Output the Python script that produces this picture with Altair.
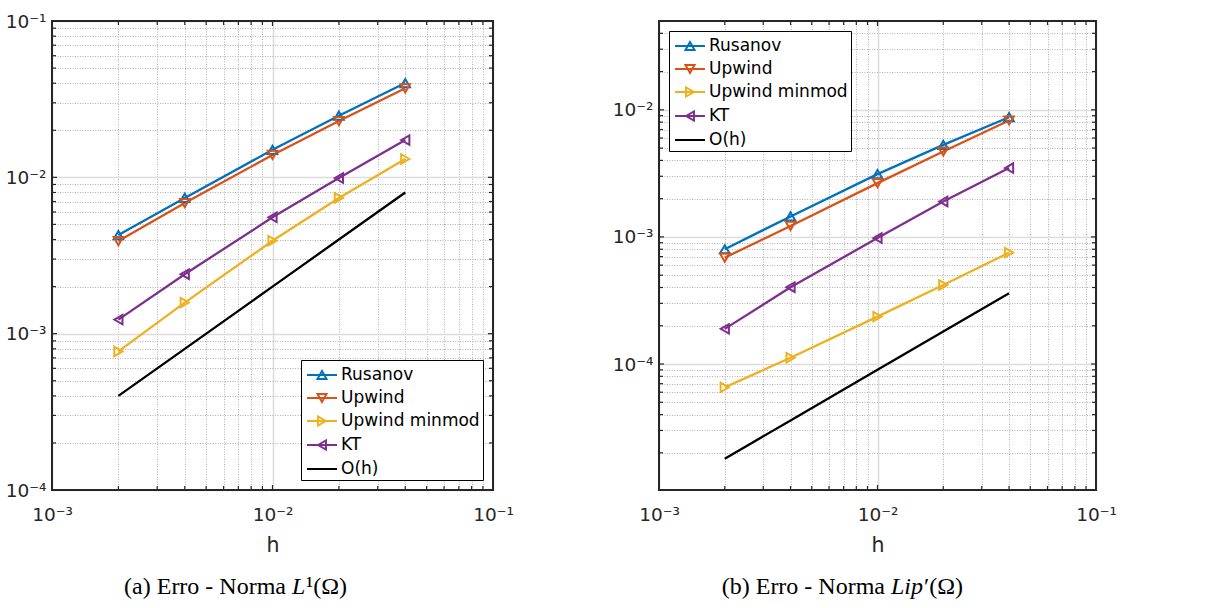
import altair as alt
import pandas as pd

# ---------------- data ----------------
h_values = [0.002, 0.004, 0.01, 0.02, 0.04]
series_names = ["Rusanov", "Upwind", "Upwind minmod", "KT", "O(h)"]

# Panel (a): error in L1 norm
l1_rusanov = [0.00427, 0.00738, 0.0150, 0.0248, 0.0401]
l1_upwind = [0.00391, 0.00685, 0.0139, 0.0229, 0.0371]
l1_upwind_minmod = [0.00077, 0.00158, 0.00393, 0.00738, 0.0131]
l1_kt = [0.00123, 0.0024, 0.00555, 0.0099, 0.0173]
l1_order_h = [0.0004, 0.0008, 0.002, 0.004, 0.008]

# Panel (b): error in Lip' norm
lip_rusanov = [0.0008, 0.00145, 0.00312, 0.0053, 0.00875]
lip_upwind = [0.000687, 0.00122, 0.00265, 0.0047, 0.00824]
lip_upwind_minmod = [0.0000655, 0.000112, 0.000236, 0.000419, 0.000752]
lip_kt = [0.000189, 0.000402, 0.00098, 0.0019, 0.00348]
lip_order_h = [0.000018, 0.000036, 0.00009, 0.00018, 0.00036]

# axis ticks / labels
x_ticks = [0.001, 0.002, 0.003, 0.004, 0.005, 0.006, 0.007, 0.008, 0.009,
           0.01, 0.02, 0.03, 0.04, 0.05, 0.06, 0.07, 0.08, 0.09, 0.1]
x_major = [0.001, 0.01, 0.1]
x_major_labels = ["10⁻³", "10⁻²", "10⁻¹"]

a_y_ticks = [0.0001, 0.0002, 0.0003, 0.0004, 0.0005, 0.0006, 0.0007, 0.0008, 0.0009,
             0.001, 0.002, 0.003, 0.004, 0.005, 0.006, 0.007, 0.008, 0.009,
             0.01, 0.02, 0.03, 0.04, 0.05, 0.06, 0.07, 0.08, 0.09, 0.1]
a_y_major = [0.0001, 0.001, 0.01, 0.1]
a_y_major_labels = ["10⁻⁴", "10⁻³", "10⁻²", "10⁻¹"]
a_y_domain = [0.0001, 0.1]

b_y_ticks = [0.00002, 0.00003, 0.00004, 0.00005, 0.00006, 0.00007, 0.00008, 0.00009,
             0.0001, 0.0002, 0.0003, 0.0004, 0.0005, 0.0006, 0.0007, 0.0008, 0.0009,
             0.001, 0.002, 0.003, 0.004, 0.005, 0.006, 0.007, 0.008, 0.009,
             0.01, 0.02, 0.03, 0.04, 0.05]
b_y_major = [0.0001, 0.001, 0.01]
b_y_major_labels = ["10⁻⁴", "10⁻³", "10⁻²"]
b_y_domain = [0.0000102, 0.05]

# ---------------- style ----------------
series_colors = ["#0072BD", "#D95319", "#EDB120", "#7E2F8E", "#000000"]
series_markers = ["triangle-up", "triangle-down", "triangle-right", "triangle-left"]
legend_paths = [
    "M-0.82,0H1.91M0.545,-0.36L0.955,0.36L0.135,0.36Z",
    "M-0.82,0H1.91M0.545,0.36L0.955,-0.36L0.135,-0.36Z",
    "M-0.82,0H1.91M0.905,0L0.185,-0.41L0.185,0.41Z",
    "M-0.82,0H1.91M0.185,0L0.905,-0.41L0.905,0.41Z",
    "M-0.82,0H1.91",
]
FONT = "DejaVu Sans"
SERIF = "Liberation Serif"
AXIS_COLOR = "#262626"
W_A, W_B, H = 441, 437, 469


def long_df(cols):
    rows = []
    for name, vals in zip(series_names, cols):
        for hv, v in zip(h_values, vals):
            rows.append({"series": name, "h": hv, "err": v})
    return pd.DataFrame(rows)


def arr(vals):
    return "[" + ", ".join(repr(v) for v in vals) + "]"


def grid_props(major):
    t_major = f"indexof({arr(major)}, datum.value) >= 0"
    return dict(
        gridColor={"condition": {"test": t_major, "value": "#dcdcdc"}, "value": "#b2b2b2"},
        gridDash={"condition": {"test": t_major, "value": []}, "value": [1, 1.5]},
        gridWidth={"condition": {"test": t_major, "value": 1.6}, "value": 1},
    )


def label_expr(major, labels):
    parts = [f"datum.value == {repr(v)} ? '{lab}'" for v, lab in zip(major, labels)]
    return " : ".join(parts) + " : ''"


def panel(cols, width, y_domain, y_ticks, y_major, y_labels,
          legend_orient, caption, caption_anchor):
    df = long_df(cols)
    x_scale = alt.Scale(type="log", domain=[0.001, 0.1], nice=False)
    y_scale = alt.Scale(type="log", domain=y_domain, nice=False)
    common = dict(domain=False, ticks=False, grid=True, labelFont=FONT,
                  labelFontSize=18.5, labelColor=AXIS_COLOR, labelOverlap=False)
    x_axis = alt.Axis(values=x_ticks, labelExpr=label_expr(x_major, x_major_labels),
                      labelFlush=False, labelPadding=15, title="h", titleFont=FONT,
                      titleFontSize=20.5, titleFontWeight="normal", titleColor=AXIS_COLOR,
                      titlePadding=12, **common, **grid_props(x_major))
    y_axis = alt.Axis(values=y_ticks, labelExpr=label_expr(y_major, y_labels),
                      labelPadding=6, title=None, **common, **grid_props(y_major))
    legend = alt.Legend(title=None, orient=legend_orient, offset=10, fillColor="white",
                        strokeColor="black", padding=3, labelFont=FONT, labelFontSize=17,
                        labelColor="black", labelLimit=400, symbolSize=484,
                        symbolStrokeWidth=2, labelOffset=13, rowPadding=3, cornerRadius=0)
    color = alt.Color("series:N", scale=alt.Scale(domain=series_names, range=series_colors),
                      legend=legend)
    X = alt.X("h:Q", scale=x_scale, axis=x_axis)
    Y = alt.Y("err:Q", scale=y_scale, axis=y_axis)

    layers = []
    # lines (carry the axes)
    layers.append(alt.Chart(df).mark_line(strokeWidth=2.3).encode(x=X, y=Y, color=color))

    # inward tick marks on the four sides
    xt = pd.DataFrame({"h": x_ticks, "major": [v in x_major for v in x_ticks]})
    yt = pd.DataFrame({"err": y_ticks, "major": [v in y_major for v in y_ticks]})
    for flag, ln in ((True, 5), (False, 4)):
        filt = "datum.major" if flag else "!datum.major"
        base_x = alt.Chart(xt).transform_filter(filt).mark_rule(color=AXIS_COLOR, strokeWidth=1.2)
        layers.append(base_x.encode(x=X, y=alt.value(0), y2=alt.value(ln)))
        layers.append(base_x.encode(x=X, y=alt.value(H), y2=alt.value(H - ln)))
        base_y = alt.Chart(yt).transform_filter(filt).mark_rule(color=AXIS_COLOR, strokeWidth=1.2)
        layers.append(base_y.encode(y=Y, x=alt.value(0), x2=alt.value(ln)))
        layers.append(base_y.encode(y=Y, x=alt.value(width), x2=alt.value(width - ln)))

    # frame drawn above the grid
    one = pd.DataFrame({"k": [0]})
    layers.append(alt.Chart(one).mark_rect(filled=False, stroke=AXIS_COLOR, strokeWidth=2)
                  .encode(x=alt.value(0), x2=alt.value(width), y=alt.value(0), y2=alt.value(H)))

    # markers
    for name, mk, col in zip(series_names, series_markers, series_colors):
        layers.append(
            alt.Chart(df).transform_filter(alt.datum.series == name)
            .mark_point(shape=mk, filled=False, size=90, strokeWidth=2, color=col, opacity=1)
            .encode(x=X, y=Y)
        )
    # legend carrier (no visible marks)
    layers.append(
        alt.Chart(df).transform_filter("datum.err < 0")
        .mark_point(filled=False, strokeWidth=2, opacity=1)
        .encode(x=X, y=Y, color=color,
                shape=alt.Shape("series:N",
                                scale=alt.Scale(domain=series_names, range=legend_paths),
                                legend=legend))
    )
    # caption
    p1, p2, p3 = caption
    cap_y = 572.5
    layers.append(alt.Chart(one).mark_text(text=p1, font=SERIF, fontSize=24, align="right",
                                           baseline="alphabetic", color="black")
                  .encode(x=alt.value(caption_anchor[0] - 6), y=alt.value(cap_y)))
    layers.append(alt.Chart(one).mark_text(text=p2, font=SERIF, fontSize=24, fontStyle="italic",
                                           align="left", baseline="alphabetic", color="black")
                  .encode(x=alt.value(caption_anchor[0]), y=alt.value(cap_y)))
    layers.append(alt.Chart(one).mark_text(text=p3, font=SERIF, fontSize=24, align="left",
                                           baseline="alphabetic", color="black")
                  .encode(x=alt.value(caption_anchor[1]), y=alt.value(cap_y)))
    return alt.layer(*layers).properties(width=width, height=H)


left = panel([l1_rusanov, l1_upwind, l1_upwind_minmod, l1_kt, l1_order_h], W_A,
             a_y_domain, a_y_ticks, a_y_major, a_y_major_labels,
             "bottom-right", ("(a) Erro - Norma", "L", "¹(Ω)"), (240, 254))
right = panel([lip_rusanov, lip_upwind, lip_upwind_minmod, lip_kt, lip_order_h], W_B,
              b_y_domain, b_y_ticks, b_y_major, b_y_major_labels,
              "top-left", ("(b) Erro - Norma", "Lip", "′(Ω)"), (232, 265))

chart = (
    alt.hconcat(left, right, spacing=166, bounds="flush")
    .resolve_scale(x="independent", y="independent", color="independent", shape="independent")
    .resolve_legend(color="independent", shape="independent")
    .properties(padding={"left": 5, "top": 12, "right": 5, "bottom": 5}, background="white")
    .configure_view(strokeWidth=0)
)

chart.save("out.html", embed_options={"renderer": "svg", "actions": False})
